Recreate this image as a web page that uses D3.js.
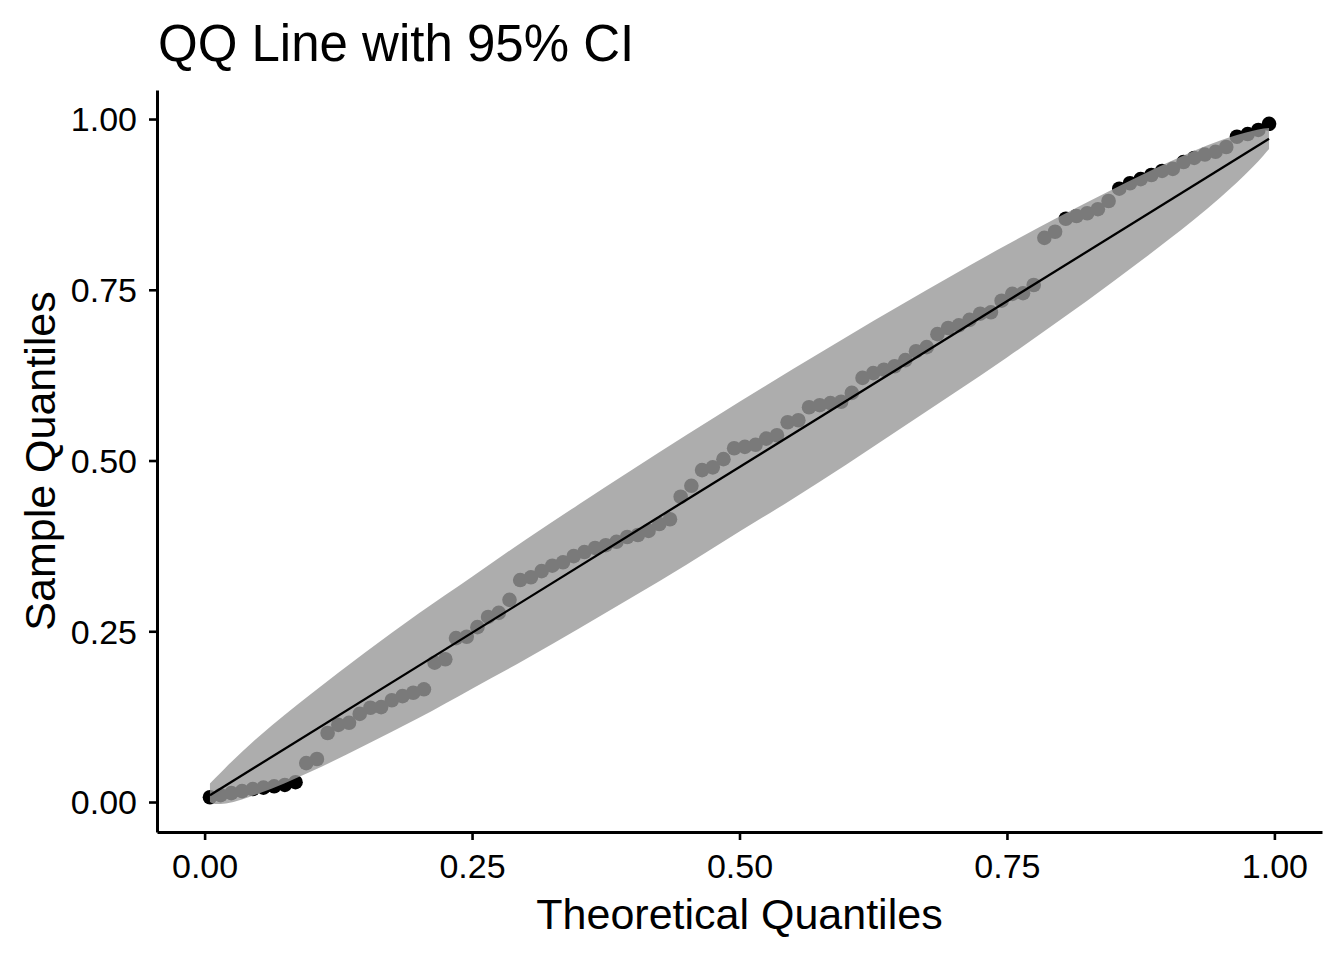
<!DOCTYPE html>
<html>
<head>
<meta charset="utf-8">
<script src="https://cdn.jsdelivr.net/npm/d3@7"></script>
<style>
  html, body { margin: 0; padding: 0; background: #fff; }
  svg { display: block; font-family: "Liberation Sans", Arial, sans-serif; }
</style>
</head>
<body>
<div id="chart"></div>
<script>
// Theoretical quantiles (plotting positions)
const theoretical = [
  0.005, 0.015, 0.025, 0.035, 0.045, 0.055, 0.065, 0.075, 0.085, 0.095,
  0.105, 0.115, 0.125, 0.135, 0.145, 0.155, 0.165, 0.175, 0.185, 0.195,
  0.205, 0.215, 0.225, 0.235, 0.245, 0.255, 0.265, 0.275, 0.285, 0.295,
  0.305, 0.315, 0.325, 0.335, 0.345, 0.355, 0.365, 0.375, 0.385, 0.395,
  0.405, 0.415, 0.425, 0.435, 0.445, 0.455, 0.465, 0.475, 0.485, 0.495,
  0.505, 0.515, 0.525, 0.535, 0.545, 0.555, 0.565, 0.575, 0.585, 0.595,
  0.605, 0.615, 0.625, 0.635, 0.645, 0.655, 0.665, 0.675, 0.685, 0.695,
  0.705, 0.715, 0.725, 0.735, 0.745, 0.755, 0.765, 0.775, 0.785, 0.795,
  0.805, 0.815, 0.825, 0.835, 0.845, 0.855, 0.865, 0.875, 0.885, 0.895,
  0.905, 0.915, 0.925, 0.935, 0.945, 0.955, 0.965, 0.975, 0.985, 0.995
];

// Sorted sample values
const sample = [
  0.007, 0.010, 0.013, 0.016, 0.019, 0.021, 0.023, 0.025, 0.029, 0.057,
  0.063, 0.101, 0.113, 0.116, 0.129, 0.138, 0.139, 0.149, 0.155, 0.160,
  0.165, 0.204, 0.209, 0.240, 0.242, 0.256, 0.271, 0.277, 0.296, 0.325,
  0.329, 0.338, 0.346, 0.351, 0.360, 0.366, 0.372, 0.376, 0.381, 0.388,
  0.391, 0.397, 0.407, 0.414, 0.447, 0.463, 0.486, 0.490, 0.502, 0.518,
  0.520, 0.523, 0.532, 0.537, 0.556, 0.559, 0.578, 0.581, 0.584, 0.586,
  0.599, 0.621, 0.628, 0.633, 0.638, 0.647, 0.660, 0.666, 0.685, 0.694,
  0.698, 0.706, 0.715, 0.717, 0.734, 0.744, 0.745, 0.757, 0.826, 0.835,
  0.854, 0.858, 0.862, 0.868, 0.880, 0.898, 0.906, 0.912, 0.918, 0.924,
  0.927, 0.937, 0.943, 0.948, 0.952, 0.959, 0.974, 0.978, 0.984, 0.993
];

// 95% confidence band edges at a few theoretical positions
const bandP  = [0.005, 0.01, 0.02, 0.05, 0.10, 0.15, 0.20, 0.25, 0.30, 0.35, 0.40, 0.45,
                0.50, 0.55, 0.60, 0.65, 0.70, 0.75, 0.80, 0.85, 0.90, 0.95, 0.98, 0.99, 0.995];
const bandLo = [0.000, -0.003, -0.002, 0.012, 0.045, 0.083, 0.123, 0.166, 0.209, 0.254, 0.300, 0.347,
                0.396, 0.444, 0.494, 0.546, 0.598, 0.651, 0.706, 0.763, 0.822, 0.886, 0.930, 0.947, 0.956];
const bandHi = [0.027, 0.035, 0.051, 0.095, 0.159, 0.219, 0.276, 0.330, 0.384, 0.436, 0.487, 0.537,
                0.586, 0.634, 0.681, 0.727, 0.772, 0.816, 0.858, 0.898, 0.936, 0.969, 0.983, 0.986, 0.987];

// QQ reference line end points
const lineX = [0.005, 0.995];
const lineY = [0.010, 0.971];

const xTicks = [0, 0.25, 0.5, 0.75, 1];
const yTicks = [0, 0.25, 0.5, 0.75, 1];

const width = 1344;
const height = 960;
const panel = { left: 157, right: 1322, top: 90, bottom: 832 };

const svg = d3.select('#chart')
  .append('svg')
  .attr('width', width)
  .attr('height', height);

const x = d3.scaleLinear()
  .domain([-0.0445, 1.0445])
  .range([panel.left, panel.right]);

const y = d3.scaleLinear()
  .domain([-0.0439, 1.0425])
  .range([panel.bottom, panel.top]);

const points = theoretical.map((t, i) => ({ t: t, s: sample[i] }));
const band = bandP.map((p, i) => ({ p: p, lo: bandLo[i], hi: bandHi[i] }));

// Points first, the band is laid over them so the ones inside turn grey
svg.append('g')
  .selectAll('circle')
  .data(points)
  .enter().append('circle')
  .attr('cx', d => x(d.t))
  .attr('cy', d => y(d.s))
  .attr('r', 7.3)
  .attr('fill', '#000');

const area = d3.area()
  .x(d => x(d.p))
  .y0(d => y(d.lo))
  .y1(d => y(d.hi))
  .curve(d3.curveMonotoneX);

svg.append('path')
  .datum(band)
  .attr('d', area)
  .attr('fill', '#999999')
  .attr('fill-opacity', 0.8);

svg.append('line')
  .attr('x1', x(lineX[0]))
  .attr('y1', y(lineY[0]))
  .attr('x2', x(lineX[1]))
  .attr('y2', y(lineY[1]))
  .attr('stroke', '#000')
  .attr('stroke-width', 2.3);

// Axes
const fmt = d3.format('.2f');

const xAxis = svg.append('g')
  .attr('transform', `translate(0,${panel.bottom})`)
  .call(d3.axisBottom(x).tickValues(xTicks).tickFormat(fmt).tickSize(8).tickSizeOuter(0).tickPadding(14));

const yAxis = svg.append('g')
  .attr('transform', `translate(${panel.left},0)`)
  .call(d3.axisLeft(y).tickValues(yTicks).tickFormat(fmt).tickSize(8).tickSizeOuter(0).tickPadding(12));

[xAxis, yAxis].forEach(g => {
  g.select('.domain').attr('stroke', '#000').attr('stroke-width', 3);
  g.selectAll('.tick line').attr('stroke', '#000').attr('stroke-width', 2.6);
  g.selectAll('.tick text')
    .attr('fill', '#000')
    .style('font-size', '34px')
    .style('font-family', '"Liberation Sans", Arial, sans-serif');
});

xAxis.selectAll('.tick text').attr('dy', '0.71em');
yAxis.selectAll('.tick text').attr('dy', '0.35em');

// Titles
svg.append('text')
  .attr('x', 158)
  .attr('y', 61)
  .style('font-size', '51px')
  .attr('fill', '#000')
  .text('QQ Line with 95% CI');

svg.append('text')
  .attr('x', (panel.left + panel.right) / 2)
  .attr('y', 929)
  .attr('text-anchor', 'middle')
  .style('font-size', '43px')
  .attr('fill', '#000')
  .text('Theoretical Quantiles');

svg.append('text')
  .attr('transform', `translate(55,${(panel.top + panel.bottom) / 2}) rotate(-90)`)
  .attr('text-anchor', 'middle')
  .style('font-size', '43px')
  .attr('fill', '#000')
  .text('Sample Quantiles');
</script>
</body>
</html>
